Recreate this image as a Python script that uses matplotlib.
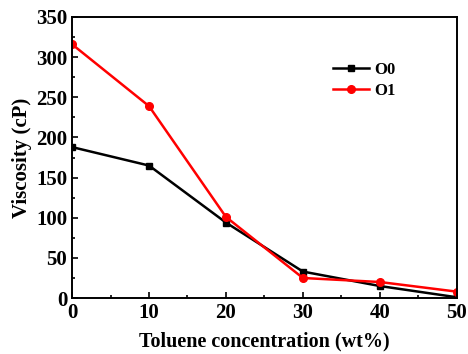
import matplotlib
matplotlib.use("Agg")
import matplotlib.pyplot as plt
from matplotlib.ticker import MultipleLocator

plt.rcParams['font.family'] = ['Liberation Serif', 'DejaVu Serif']
plt.rcParams['font.weight'] = 'bold'

toluene = [0, 10, 20, 30, 40, 50]
visc_o0 = [188, 165, 94, 33, 15, 1]
visc_o1 = [316, 239, 101, 25, 20, 8]

fig = plt.figure(figsize=(4.68, 3.54), dpi=100)
ax = fig.add_axes([0.154, 0.158, 0.822, 0.794])

ax.plot(toluene, visc_o0, color='black', marker='s', markersize=4.5, linewidth=1.8, label='O0')
ax.plot(toluene, visc_o1, color='red', marker='o', markersize=5.5, linewidth=1.8, label='O1')

ax.set_xlim(0, 50)
ax.set_ylim(0, 350)
ax.xaxis.set_major_locator(MultipleLocator(10))
ax.xaxis.set_minor_locator(MultipleLocator(5))
ax.yaxis.set_major_locator(MultipleLocator(50))
ax.yaxis.set_minor_locator(MultipleLocator(25))
ax.tick_params(which='both', direction='in', top=False, right=False, labelsize=15, width=1.2)
ax.tick_params(which='major', length=4)
ax.tick_params(which='minor', length=2.5)
for s in ax.spines.values():
    s.set_linewidth(1.4)
for lab in ax.get_xticklabels() + ax.get_yticklabels():
    lab.set_fontweight('bold')

ax.set_xlabel('Toluene concentration (wt%)', fontsize=14.5, fontweight='bold', labelpad=6)
ax.set_ylabel('Viscosity (cP)', fontsize=15, fontweight='bold', labelpad=3)

ax.legend(loc='upper right', bbox_to_anchor=(0.88, 0.895), frameon=False, fontsize=12,
          handlelength=2.2, handletextpad=0.3, labelspacing=0.3)

fig.savefig('out.png', dpi=100)
